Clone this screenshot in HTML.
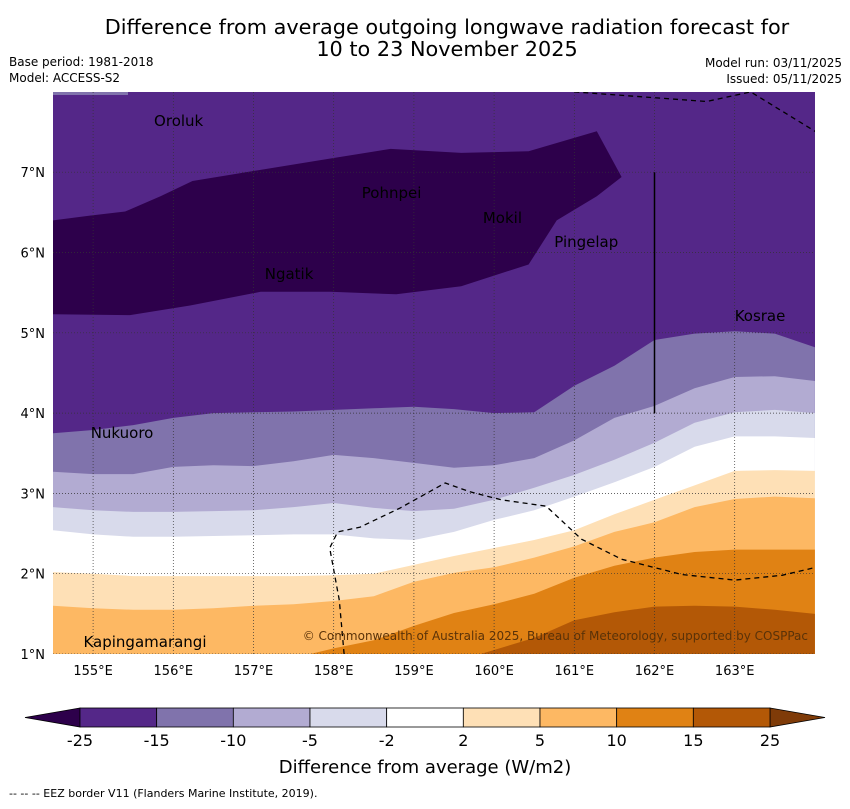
<!DOCTYPE html>
<html><head><meta charset="utf-8">
<style>
body{margin:0;background:#fff;width:850px;height:804px;overflow:hidden;font-family:"Liberation Sans","DejaVu Sans",sans-serif;}
svg text{font-family:"DejaVu Sans","Liberation Sans",sans-serif;}
</style></head>
<body>
<svg id="chart" width="850" height="804" viewBox="0 0 850 804" xmlns="http://www.w3.org/2000/svg">
<text x="447" y="34" font-size="20.8" text-anchor="middle">Difference from average outgoing longwave radiation forecast for</text>
<text x="447" y="56" font-size="20.8" text-anchor="middle">10 to 23 November 2025</text>
<text x="9" y="66" font-size="12">Base period: 1981-2018</text>
<text x="9" y="82" font-size="12">Model: ACCESS-S2</text>
<text x="842" y="67" font-size="12" text-anchor="end">Model run: 03/11/2025</text>
<text x="842" y="83" font-size="12" text-anchor="end">Issued: 05/11/2025</text>
<defs><clipPath id="pc"><rect x="53" y="92" width="762" height="562"/></clipPath></defs>
<g id="plot" clip-path="url(#pc)"></g>
<g id="axes"></g>
<g id="cbar"></g>
<text x="425" y="773" font-size="18" text-anchor="middle">Difference from average (W/m2)</text>
<text x="9" y="797" font-size="11">--  --  -- EEZ border V11 (Flanders Marine Institute, 2019).</text>
</svg>
<script>
const lons=[154.5,155,155.5,156,156.5,157,157.5,158,158.5,159,159.5,160,160.5,161,161.5,162,162.5,163,163.5,164];
const levelNames=[-15,-10,-5,-2,2,5,10,15];
const bM15=[3.75,3.79,3.85,3.94,4.0,4.01,4.02,4.04,4.06,4.08,4.05,4.0,4.01,4.34,4.59,4.91,4.99,5.02,4.99,4.82];
const bM10=[3.27,3.24,3.24,3.33,3.35,3.34,3.40,3.48,3.44,3.38,3.32,3.35,3.44,3.66,3.94,4.09,4.31,4.45,4.46,4.40];
const bM5=[2.83,2.79,2.77,2.77,2.78,2.79,2.83,2.88,2.82,2.78,2.81,2.92,3.07,3.23,3.42,3.63,3.88,4.01,4.04,4.0];
const bM2=[2.54,2.49,2.46,2.46,2.47,2.48,2.49,2.49,2.44,2.42,2.52,2.67,2.79,2.96,3.14,3.33,3.58,3.71,3.71,3.69];
const bP2=[2.02,2.0,1.97,1.97,1.97,1.97,1.97,1.98,2.0,2.11,2.22,2.32,2.42,2.54,2.74,2.92,3.10,3.28,3.29,3.28];
const bP5=[1.6,1.57,1.55,1.55,1.57,1.6,1.62,1.66,1.72,1.90,2.01,2.08,2.2,2.34,2.52,2.64,2.83,2.93,2.96,2.94];
const bP10=[0.9,0.9,0.9,0.9,0.9,0.9,0.95,1.07,1.17,1.35,1.51,1.62,1.75,1.95,2.1,2.2,2.27,2.30,2.30,2.30];
const bP15=[0.9,0.9,0.9,0.9,0.9,0.9,0.9,0.9,0.9,0.9,0.9,1.05,1.2,1.42,1.52,1.59,1.6,1.59,1.55,1.5];
const blobLon=[154.5,154.96,155.4,155.84,156.24,157.03,157.96,158.71,159.59,160.43,161.28,161.59,161.28,160.78,160.43,159.59,158.78,157.96,157.09,156.21,155.46,154.5];
const blobLat=[6.40,6.46,6.51,6.70,6.89,7.02,7.17,7.29,7.24,7.26,7.51,6.94,6.70,6.40,5.85,5.58,5.48,5.51,5.51,5.34,5.22,5.23];
const eezLon=[158.13,158.07,157.95,158.05,158.33,158.83,159.39,159.7,160.09,160.65,161.09,161.59,162.34,163.0,163.59,164.1];
const eezLat=[1.0,1.67,2.32,2.52,2.58,2.82,3.13,3.02,2.92,2.84,2.43,2.18,1.99,1.92,1.98,2.1];
const eezTopLon=[161.0,162.65,163.2,164.1];
const eezTopLat=[8.0,7.88,8.0,7.45];
const placeNames=["Oroluk","Pohnpei","Mokil","Pingelap","Ngatik","Kosrae","Nukuoro","Kapingamarangi"];
const placeLon=[155.76,158.35,159.86,160.75,157.14,163.0,154.97,154.88];
const placeLat=[7.64,6.74,6.43,6.13,5.73,5.21,3.75,1.15];
const cbLevels=["-25","-15","-10","-5","-2","2","5","10","15","25"];
const lonTicks=[155,156,157,158,159,160,161,162,163];
const latTicks=[1,2,3,4,5,6,7];
const colors=["#8073ac","#b2abd2","#d8daeb","#ffffff","#fee0b6","#fdb863","#e08214","#b35806"];
const cbColors=["#542788","#8073ac","#b2abd2","#d8daeb","#ffffff","#fee0b6","#fdb863","#e08214","#b35806"];
const NS="http://www.w3.org/2000/svg";
const X=l=>53+(l-154.5)*80.2, Y=t=>654-(t-1)*80.3;
function mk(tag,attrs,parent){const e=document.createElementNS(NS,tag);for(const k in attrs)e.setAttribute(k,attrs[k]);parent.appendChild(e);return e;}
const plot=document.getElementById('plot'), axes=document.getElementById('axes'), cbar=document.getElementById('cbar');
let bg=mk('rect',{x:53,y:92,width:762,height:562,fill:'#542788'},plot);


const bounds=[bM15,bM10,bM5,bM2,bP2,bP5,bP10,bP15];
bounds.forEach((b,i)=>{
 let d='M'+X(lons[0])+','+Y(0.5);
 lons.forEach((l,j)=>{d+=' L'+X(l).toFixed(1)+','+Y(b[j]).toFixed(1);});
 d+=' L'+X(lons[lons.length-1])+','+Y(0.5)+' Z';
 const p=mk('path',{d:d,fill:colors[i]},plot);
 
 
});
let d='';blobLon.forEach((l,j)=>{d+=(j?' L':'M')+X(l).toFixed(1)+','+Y(blobLat[j]).toFixed(1);});
const blob=mk('path',{d:d+' Z',fill:'#2d004b'},plot);


const strip=mk('rect',{x:53,y:92,width:75,height:3,fill:'#8073ac'},plot);


lonTicks.forEach(l=>{const g=mk('line',{x1:X(l),x2:X(l),y1:92,y2:654,stroke:'#333',"stroke-width":0.7,"stroke-dasharray":"1,2"},plot);
 
 });
latTicks.forEach(t=>{const g=mk('line',{x1:53,x2:815,y1:Y(t),y2:Y(t),stroke:'#333',"stroke-width":0.7,"stroke-dasharray":"1,2"},plot);
 
 });
function poly(lo,la){let s='';lo.forEach((l,j)=>{s+=(j?' L':'M')+X(l).toFixed(1)+','+Y(la[j]).toFixed(1);});return s;}
const e1=mk('path',{d:poly(eezLon,eezLat),fill:'none',stroke:'#000',"stroke-width":1.3,"stroke-dasharray":"5,4"},plot);


const e2=mk('path',{d:poly(eezTopLon,eezTopLat),fill:'none',stroke:'#000',"stroke-width":1.3,"stroke-dasharray":"5,4"},plot);


const vl=mk('line',{x1:X(162),x2:X(162),y1:Y(7),y2:Y(4),stroke:'#000',"stroke-width":1.5},plot);


placeNames.forEach((n,i)=>{
 const t=mk('text',{x:X(placeLon[i]),y:Y(placeLat[i])+5,"font-size":15,fill:'#000'},plot);t.textContent=n;
 
 
});
const cp=mk('text',{x:808,y:640,"font-size":12,fill:'#5a3208',"text-anchor":"end"},plot);
cp.textContent='© Commonwealth of Australia 2025, Bureau of Meteorology, supported by COSPPac';


lonTicks.forEach(l=>{const t=mk('text',{x:X(l),y:675,"font-size":13,"text-anchor":"middle"},axes);t.textContent=l+'°E';
 
 });
latTicks.forEach(v=>{const t=mk('text',{x:45,y:Y(v)+5,"font-size":13,"text-anchor":"end"},axes);t.textContent=v+'°N';
 
 });
const cx0=80,cx1=770,cy=708,ch=19,sw=(cx1-cx0)/(cbLevels.length-1);
const lt=mk('path',{d:`M${cx0},${cy} L25,${cy+ch/2} L${cx0},${cy+ch} Z`,fill:'#2d004b',stroke:'#000',"stroke-width":0.8},cbar);


const rt=mk('path',{d:`M${cx1},${cy} L825,${cy+ch/2} L${cx1},${cy+ch} Z`,fill:'#7f3b08',stroke:'#000',"stroke-width":0.8},cbar);


cbColors.forEach((c,i)=>{const r=mk('rect',{x:cx0+i*sw,y:cy,width:sw,height:ch,fill:c,stroke:'#000',"stroke-width":0.8},cbar);
 
 });
cbLevels.forEach((v,i)=>{const t=mk('text',{x:cx0+i*sw,y:746,"font-size":16,"text-anchor":"middle"},cbar);t.textContent=v;
 
 });
</script>
</body></html>
